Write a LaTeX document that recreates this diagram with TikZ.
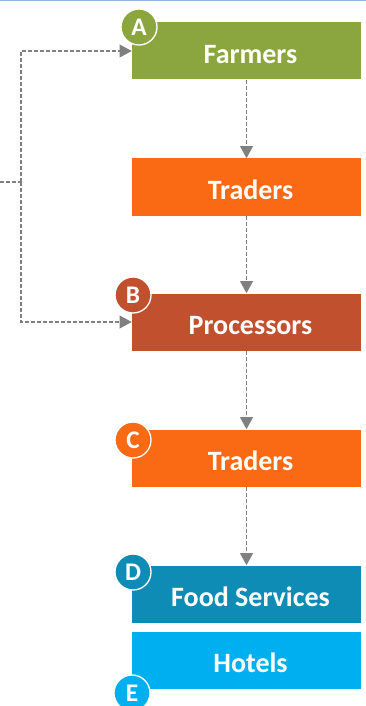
\documentclass[tikz,border=0pt]{standalone}
\usepackage{fontspec}
\setmainfont{Carlito}
\usetikzlibrary{arrows.meta, positioning}

\definecolor{farmgreen}{HTML}{8BA63E}
\definecolor{tradeorange}{HTML}{FA6914}
\definecolor{procred}{HTML}{C1502E}
\definecolor{foodblue}{HTML}{0F8CB6}
\definecolor{hotelblue}{HTML}{00AFEF}
\definecolor{flowgray}{HTML}{808080}
\definecolor{frameblue}{HTML}{95B3D7}

\begin{document}
\begin{tikzpicture}[x=0.75pt,y=-0.75pt,
    every node/.style={text=white, font=\bfseries\fontsize{21}{25}\selectfont},
    stage/.style={minimum width=171.75pt, minimum height=42.75pt, inner sep=0pt,
      text height=19pt, text depth=0pt,
      execute at begin node={\hspace*{6pt}}},
    badge/.style={circle, draw=white, line width=1pt, minimum size=27pt, inner sep=0pt,
      font=\bfseries\fontsize{19}{22}\selectfont},
    flow/.style={draw=flowgray, line width=1.1pt, dash pattern=on 3pt off 1.5pt},
    tip/.style={-{Triangle[length=9pt, width=9.5pt]}, flowgray}]

    \useasboundingbox (0,0) rectangle (366,706);
    \draw[frameblue, line width=1.2pt] (0,0.5) -- (366,0.5);

    % stages of the chain
    \node[stage, fill=farmgreen]   (farmers)    at (246.5,51)  {Farmers};
    \node[stage, fill=tradeorange] (traders)    at (246.5,187) {Traders};
    \node[stage, fill=procred]     (processors) at (246.5,322) {Processors};
    \node[stage, fill=tradeorange] (retailers)  at (246.5,458) {Traders};
    \node[stage, fill=foodblue]    (food)       at (246.5,594) {Food Services};
    \node[stage, fill=hotelblue]   (hotels)     at (246.5,660) {Hotels};

    % letter badges
    \node[badge, fill=farmgreen]   (badgeA) at (139,27)  {A};
    \node[badge, fill=procred]     (badgeB) at (133,295) {B};
    \node[badge, fill=tradeorange] (badgeC) at (133,440) {C};
    \node[badge, fill=foodblue]    (badgeD) at (133,572) {D};
    \node[badge, fill=hotelblue]   (badgeE) at (132,693) {E};

    \foreach \a/\b in {farmers/traders, traders/processors,
                       processors/retailers, retailers/food}
    \draw[flow, tip] (\a) -- (\b);

    % feed-in from the left
    \coordinate (feed)     at (0,182);
    \coordinate (feedjoin) at (21,182);
    \draw[flow] (feed) -- (feedjoin);
    \draw[flow, tip] (feedjoin) |- (farmers.west);
    \draw[flow, tip] (feedjoin) |- (processors.west);

\end{tikzpicture}
\end{document}
